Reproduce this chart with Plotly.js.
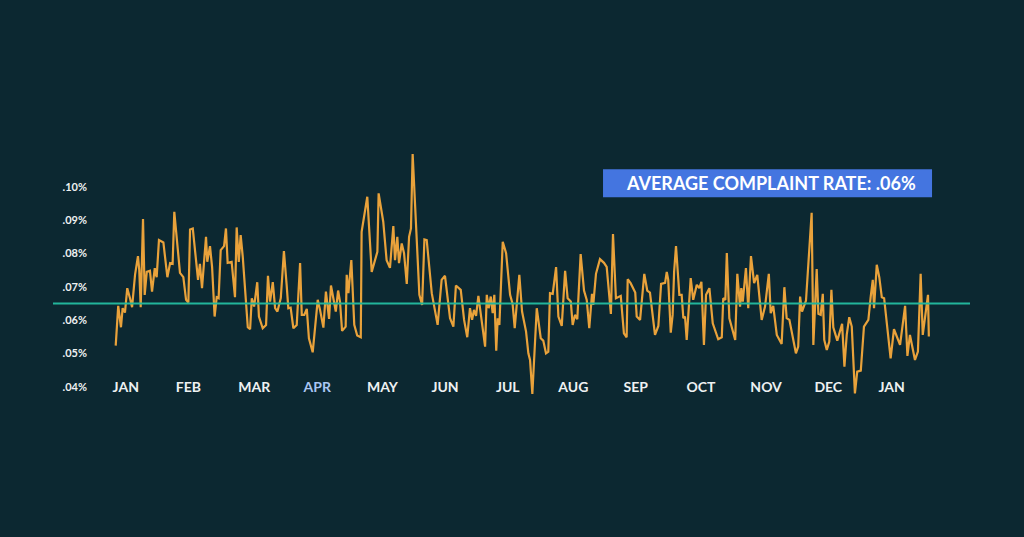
<!DOCTYPE html>
<html>
<head>
<meta charset="utf-8">
<script src="https://cdn.plot.ly/plotly-3.0.1.min.js"></script>
<style>
  html, body { margin: 0; padding: 0; background: #0c2831; }
  #chart { width: 1024px; height: 537px; }
</style>
</head>
<body>
<div id="chart"></div>
<script>
// Day index along the period
var days = [0,1.2,2.5,3.3,4.4,5.5,6.8,7.8,9.2,10.6,11.2,11.9,13.0,13.8,14.8,16.3,17.3,18.6,19.5,20.6,22.7,24.6,25.9,27.1,27.9,30.6,32.2,33.5,34.6,35.4,36.7,39.2,40.1,41.1,43.0,43.6,44.9,45.9,47.1,48.1,49.0,50.0,51.6,52.5,53.3,55.2,56.8,57.6,58.6,59.5,60.5,62.0,62.9,64.0,
64.8,65.9,67.4,68.2,70.0,71.6,72.5,73.5,74.8,75.9,77.0,78.6,80.1,81.4,82.2,83.3,84.6,86.2,87.8,88.6,89.8,91.0,92.0,93.8,94.9,96.2,97.3,98.9,100.1,101.6,102.5,103.6,104.8,105.9,106.8,107.8,109.5,110.0,110.8,112.2,113.6,115.0,116.7,117.1,119.8,121.9,124.6,125.2,127.4,129.0,130.6,
132.2,133.0,134.1,134.9,136.2,137.3,138.6,139.7,140.6,141.4,144.6,145.9,147.0,148.1,150.5,153.3,155.2,156.8,159.2,160.8,162.0,164.3,165.9,167.4,168.7,169.7,170.6,171.6,172.7,173.8,175.9,176.7,177.6,178.6,179.5,180.3,181.2,181.9,182.7,184.3,185.9,187.8,189.0,190.0,191.0,192.2,193.5,195.4,196.5,197.3,198.4,
200.5,202.4,203.6,204.9,206.0,206.8,208.1,209.7,210.8,212.4,214.0,215.2,216.7,217.6,218.7,219.8,221.4,223.0,224.3,225.5,226.8,227.4,228.7,230.6,232.5,233.8,235.8,236.8,238.2,240.5,242.0,243.3,243.8,245.2,247.4,248.1,249.7,251.7,253.1,254.4,256.8,258.4,259.7,261.6,262.4,263.1,
264.3,265.2,265.9,266.8,268.4,269.5,270.3,271.1,271.9,273.8,275.0,276.7,277.9,278.9,280.1,281.1,282.7,284.3,286.9,288.6,289.3,290.3,291.0,292.2,294.1,295.0,296.0,297.3,297.9,298.6,300.1,301.2,302.5,304.0,305.5,307.6,309.2,311.0,311.9,313.1,314.8,317.1,318.4,319.5,320.8,322.4,323.9,325.0,325.9,326.8,328.7,331.4,332.2,333.8,334.6,335.7,336.7,337.4,338.6,339.8,340.8,341.7,343.6,345.9,347.0,348.1,349.3,350.5,352.0,353.1,354.8,356.3,358.4,359.5,360.5,361.1,362.4,363.6,364.8,365.9,367.1,369.0,370.6,371.9,373.5,375.9,377.0,378.2,379.3,380.6,382.0,383.3,384.3,385.4,386.8,387.2];

// Complaint rate in percent
var rates = [0.0524,0.0643,0.0579,0.0636,0.0623,0.0696,0.0666,0.0639,0.0736,0.0792,0.0751,0.0639,0.0903,0.0676,0.0745,0.0748,0.0686,0.0756,0.0729,0.0840,0.0833,0.0729,0.0771,0.0769,0.0925,0.0742,0.0729,0.0661,0.0653,0.0872,0.0875,0.0721,0.0769,0.0696,0.0850,0.0775,0.0822,0.0759,0.0611,0.0669,0.0666,0.0810,0.0822,0.0875,0.0772,0.0775,0.0669,0.0878,0.0775,0.0855,0.0790,0.0661,0.0579,0.0573,
0.0666,0.0641,0.0714,0.0611,0.0576,0.0586,0.0733,0.0656,0.0714,0.0636,0.0626,0.0666,0.0807,0.0706,0.0636,0.0638,0.0576,0.0586,0.0771,0.0616,0.0616,0.0634,0.0546,0.0504,0.0576,0.0661,0.0631,0.0578,0.0686,0.0604,0.0704,0.0661,0.0626,0.0689,0.0656,0.0568,0.0581,0.0736,0.0681,0.0780,0.0586,0.0554,0.0549,0.0865,0.0970,0.0745,0.0805,0.0980,0.0895,0.0780,0.0757,
0.0882,0.0780,0.0850,0.0771,0.0830,0.0801,0.0709,0.0850,0.0875,0.1098,0.0676,0.0646,0.0842,0.0840,0.0681,0.0586,0.0721,0.0733,0.0606,0.0581,0.0704,0.0691,0.0601,0.0549,0.0636,0.0601,0.0631,0.0613,0.0673,0.0616,0.0521,0.0676,0.0636,0.0671,0.0621,0.0676,0.0509,0.0606,0.0586,0.0835,0.0801,0.0676,0.0649,0.0576,0.0651,0.0736,0.0626,0.0566,0.0501,0.0481,0.0379,
0.0636,0.0546,0.0539,0.0501,0.0506,0.0681,0.0679,0.0759,0.0611,0.0583,0.0748,0.0666,0.0656,0.0586,0.0616,0.0603,0.0798,0.0689,0.0661,0.0576,0.0679,0.0646,0.0739,0.0783,0.0772,0.0760,0.0619,0.0858,0.0666,0.0673,0.0561,0.0549,0.0723,0.0711,0.0683,0.0611,0.0601,0.0739,0.0689,0.0683,0.0556,0.0583,0.0709,0.0712,0.0745,0.0721,
0.0563,0.0616,0.0745,0.0822,0.0676,0.0676,0.0606,0.0611,0.0541,0.0726,0.0661,0.0706,0.0696,0.0715,0.0526,0.0676,0.0696,0.0591,0.0543,0.0549,0.0666,0.0661,0.0801,0.0606,0.0566,0.0541,0.0739,0.0641,0.0696,0.0656,0.0756,0.0636,0.0792,0.0711,0.0736,0.0601,0.0641,0.0739,0.0621,0.0643,0.0556,0.0529,0.0699,0.0606,0.0601,0.0546,0.0501,0.0521,0.0671,0.0626,0.0659,0.0922,0.0526,0.0753,0.0619,0.0616,0.0679,0.0541,0.0511,0.0536,0.0691,0.0579,0.0539,0.0589,0.0461,0.0556,0.0609,0.0581,0.0381,0.0446,0.0449,0.0581,0.0601,0.0669,0.0721,0.0636,0.0766,0.0729,0.0669,0.0666,0.0601,0.0486,0.0573,0.0553,0.0526,0.0643,0.0493,0.0556,0.0526,0.0481,0.0506,0.0739,0.0556,0.0611,0.0676,0.0551];

var averageLine = 0.065;
var averageLabel = 'AVERAGE COMPLAINT RATE: .06%';

var monthTicks = [4.8, 34.6, 66.0, 96.0, 127.0, 156.8, 186.7, 217.9, 247.6, 278.7, 309.7, 339.3, 369.5];
var monthLabels = ['JAN','FEB','MAR','<span style="color:#a9c6f2">APR</span>','MAY','JUN','JUL','AUG','SEP','OCT','NOV','DEC','JAN'];

var rateTicks = [0.04, 0.05, 0.06, 0.07, 0.08, 0.09, 0.10];
var rateLabels = ['.04%','.05%','.06%','.07%','.08%','.09%','.10%'];

var BG = '#0c2831';
var FONT = 'Lato, "Open Sans", sans-serif';

var trace = {
  x: days, y: rates, type: 'scatter', mode: 'lines',
  line: { color: '#e9a23b', width: 2.2 },
  hoverinfo: 'skip'
};

var layout = {
  width: 1024, height: 537,
  paper_bgcolor: BG, plot_bgcolor: BG,
  margin: { l: 53, r: 54, t: 140, b: 127, pad: 0 },
  showlegend: false,
  xaxis: {
    range: [-29.86, 406.8],
    anchor: 'free', position: 0.122,
    showgrid: false, zeroline: false, showline: false, ticks: '',
    tickmode: 'array', tickvals: monthTicks, ticktext: monthLabels,
    tickfont: { family: FONT, size: 14, color: '#eef1f2', weight: 700 },
    fixedrange: true
  },
  yaxis: {
    range: [0.03311, 0.11399],
    anchor: 'free', position: 0.037,
    showgrid: false, zeroline: false, showline: false, ticks: '',
    tickmode: 'array', tickvals: rateTicks, ticktext: rateLabels,
    tickfont: { family: FONT, size: 11, color: '#eef1f2', weight: 700 },
    fixedrange: true
  },
  shapes: [
    { type: 'line', xref: 'paper', yref: 'y', x0: 0, x1: 1, y0: averageLine, y1: averageLine,
      line: { color: '#22b59b', width: 2 }, layer: 'above' },
    { type: 'rect', xref: 'paper', yref: 'paper', x0: 0.5998, x1: 0.9586, y0: 0.7878, y1: 0.8915,
      fillcolor: '#4475e0', line: { width: 0 }, layer: 'below' }
  ],
  annotations: [
    { xref: 'paper', yref: 'paper', x: 0.9433, y: 0.8396, xanchor: 'right', yanchor: 'middle',
      text: averageLabel, showarrow: false,
      font: { family: FONT, size: 18, color: '#ffffff', weight: 700 } }
  ]
};

Plotly.newPlot('chart', [trace], layout, { displayModeBar: false, staticPlot: true });
</script>
</body>
</html>
